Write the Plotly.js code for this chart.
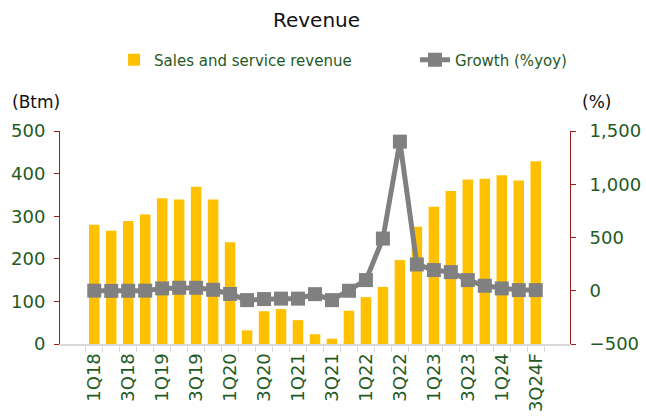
<!DOCTYPE html>
<html>
<head>
<meta charset="utf-8">
<script src="https://cdn.plot.ly/plotly-3.0.1.min.js"></script>
<style>html,body{margin:0;padding:0;background:#fff;}#chart{width:646px;height:419px;}</style>
</head>
<body>
<div id="chart"></div>
<script>
var categories = ["1Q18","2Q18","3Q18","4Q18","1Q19","2Q19","3Q19","4Q19","1Q20","2Q20","3Q20","4Q20","1Q21","2Q21","3Q21","4Q21","1Q22","2Q22","3Q22","4Q22","1Q23","2Q23","3Q23","4Q23","1Q24","2Q24","3Q24F"];
var tickLabels = ["1Q18","","3Q18","","1Q19","","3Q19","","1Q20","","3Q20","","1Q21","","3Q21","","1Q22","","3Q22","","1Q23","","3Q23","","1Q24","","3Q24F"];
var revenue = [280,266,289,304,342,339,369,339,239,32,77,82,56,23,12.5,78,110,134,197,275,322,359,386,388,396,384,429];
var growth = [1,-1,0,1,22,28,28,9,-30,-88,-78,-74,-74,-32,-88,0,100,490,1400,247,194,175,100,47,22,6,6];

var green = "#1f5a1f";
var axisRed = "#9b1c1c";
var font = "DejaVu Sans";

var traces = [
  {type:"bar", name:"Sales and service revenue", x:categories, y:revenue,
   marker:{color:"#FFC000"}, yaxis:"y", legend:"legend"},
  {type:"scatter", mode:"lines+markers", name:"Growth (%yoy)", x:categories, y:growth,
   line:{color:"#808080", width:5}, marker:{symbol:"square", size:14, color:"#808080"}, yaxis:"y2", legend:"legend2"}
];

var legendBase = {orientation:"h", xanchor:"left", y:1.333, yanchor:"middle",
                  font:{family:font, size:15, color:green}, bgcolor:"rgba(0,0,0,0)"};

var layout = {
  width:646, height:419,
  margin:{l:60, r:76, t:131, b:75},
  paper_bgcolor:"#fff", plot_bgcolor:"#fff",
  font:{family:font, color:green},
  title:{text:"Revenue", x:0.49, xanchor:"center", y:0.952, yanchor:"middle", font:{family:font, size:20, color:"#111"}},
  bargap:0.38,
  showlegend:true,
  legend:Object.assign({}, legendBase, {x:0.106}),
  legend2:Object.assign({}, legendBase, {x:0.696}),
  xaxis:{type:"category", tickmode:"array", tickvals:categories, ticktext:tickLabels,
         tickangle:-90, tickson:"boundaries", ticks:"outside", ticklen:6, tickcolor:"#d9d9d9",
         showline:true, linecolor:"#d9d9d9", linewidth:2, showgrid:false, zeroline:false,
         tickfont:{family:font, size:18, color:green}},
  yaxis:{range:[0,500], tickvals:[0,100,200,300,400,500], showgrid:false, zeroline:false,
         showline:true, linecolor:axisRed, linewidth:1, ticks:"outside", ticklen:5, tickcolor:axisRed,
         ticklabelstandoff:5, tickfont:{family:font, size:18, color:green}},
  yaxis2:{range:[-500,1500], tickvals:[-500,0,500,1000,1500], tickformat:",", overlaying:"y", side:"right",
          showgrid:false, zeroline:false, showline:true, linecolor:axisRed, linewidth:1,
          ticks:"outside", ticklen:5, tickcolor:axisRed, ticklabelstandoff:10,
          tickfont:{family:font, size:18, color:green}},
  annotations:[
    {text:"(Btm)", xref:"paper", yref:"paper", x:-0.098, xanchor:"left", y:1.136, yanchor:"middle",
     showarrow:false, font:{family:font, size:17, color:"#111"}},
    {text:"(%)", xref:"paper", yref:"paper", x:1.02, xanchor:"left", y:1.136, yanchor:"middle",
     showarrow:false, font:{family:font, size:17, color:"#111"}}
  ]
};

Plotly.newPlot("chart", traces, layout, {displayModeBar:false, staticPlot:true});
</script>
</body>
</html>
